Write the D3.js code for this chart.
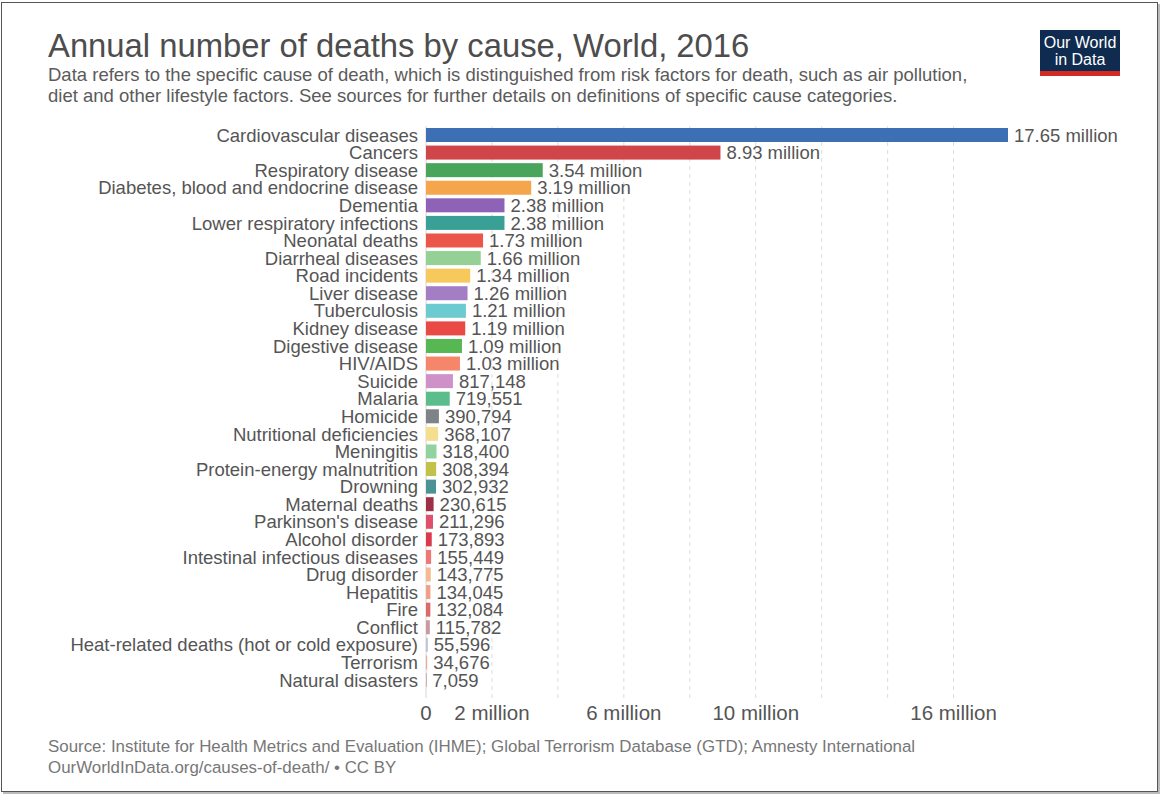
<!DOCTYPE html>
<html>
<head>
<meta charset="utf-8">
<script src="https://cdn.jsdelivr.net/npm/d3@7"></script>
<style>
  body { margin: 0; background: #fff; }
  text { font-family: "Liberation Sans", Arial, Helvetica, sans-serif; }
</style>
</head>
<body>
<div id="chart"></div>
<script>
var w = 1163;
var h = 798;

// Data
var causes = [
    "Cardiovascular diseases", "Cancers", "Respiratory disease",
    "Diabetes, blood and endocrine disease", "Dementia", "Lower respiratory infections",
    "Neonatal deaths", "Diarrheal diseases", "Road incidents", "Liver disease",
    "Tuberculosis", "Kidney disease", "Digestive disease", "HIV/AIDS", "Suicide",
    "Malaria", "Homicide", "Nutritional deficiencies", "Meningitis",
    "Protein-energy malnutrition", "Drowning", "Maternal deaths", "Parkinson's disease",
    "Alcohol disorder", "Intestinal infectious diseases", "Drug disorder", "Hepatitis",
    "Fire", "Conflict", "Heat-related deaths (hot or cold exposure)", "Terrorism",
    "Natural disasters"
];
var deaths = [
    17650000, 8930000, 3540000, 3190000, 2380000, 2380000, 1730000, 1660000,
    1340000, 1260000, 1210000, 1190000, 1090000, 1030000, 817148, 719551,
    390794, 368107, 318400, 308394, 302932, 230615, 211296, 173893,
    155449, 143775, 134045, 132084, 115782, 55596, 34676, 7059
];
var colors = [
    "#3d6fb4", "#d0454a", "#4aa55c", "#f5a54c", "#8e62b6", "#39a095",
    "#ec554a", "#95d195", "#f7c95c", "#a47ec4", "#6ccbd0", "#ea4a45",
    "#57b753", "#f5866a", "#cf92c8", "#5bbd8b", "#7e8387", "#f3df8e",
    "#90d3a1", "#c2c24b", "#4b9294", "#9d2f48", "#e04f6c", "#da3a4c",
    "#ec7878", "#f5ba91", "#f0a085", "#dc6a6a", "#c99aa2", "#b9c4d6",
    "#e8a9a0", "#c9b3b3"
];
var gridTicks = [2e6, 4e6, 6e6, 8e6, 10e6, 12e6, 14e6, 16e6];
var tickLabels = [0, 2e6, 6e6, 10e6, 16e6];

var data = causes.map(function(c, i) {
    return { cause: c, value: deaths[i], color: colors[i] };
});

var svg = d3.select("#chart").append("svg")
    .attr("width", w)
    .attr("height", h);

// Frame with a bit of shadow
svg.append("rect").attr("x", 3).attr("y", 4).attr("width", 1157).attr("height", 790)
    .attr("fill", "#bbb");
svg.append("rect").attr("x", 1.5).attr("y", 2.5).attr("width", 1156).attr("height", 789)
    .attr("fill", "#fff").attr("stroke", "#555").attr("stroke-width", 1);

// Title + subtitle
svg.append("text")
    .attr("x", 48).attr("y", 57)
    .attr("fill", "#4d4d4d")
    .style("font-size", "32.8px")
    .text("Annual number of deaths by cause, World, 2016");

var sub = [
    "Data refers to the specific cause of death, which is distinguished from risk factors for death, such as air pollution,",
    "diet and other lifestyle factors. See sources for further details on definitions of specific cause categories."
];
svg.selectAll(".sub").data(sub).enter().append("text")
    .attr("class", "sub")
    .attr("x", 48)
    .attr("y", function(d, i) { return 81 + i * 21; })
    .attr("fill", "#5b5b5b")
    .style("font-size", "18.5px")
    .text(function(d) { return d; });

// Logo
var logo = svg.append("g");
logo.append("rect").attr("x", 1040).attr("y", 30).attr("width", 80).attr("height", 46).attr("fill", "#0f2b4f");
logo.append("rect").attr("x", 1040).attr("y", 71).attr("width", 80).attr("height", 5).attr("fill", "#d32b24");
logo.append("text").attr("x", 1080).attr("y", 48).attr("text-anchor", "middle")
    .attr("fill", "#fff").style("font-size", "16px").text("Our World");
logo.append("text").attr("x", 1080).attr("y", 65).attr("text-anchor", "middle")
    .attr("fill", "#fff").style("font-size", "16px").text("in Data");

// Scales
var xScale = d3.scaleLinear()
    .domain([0, 17.65e6])
    .range([426, 1008]);

var yScale = d3.scalePoint()
    .domain(causes)
    .range([135, 680]);

var barH = 14;

// Gridlines
svg.selectAll(".grid").data(gridTicks).enter().append("line")
    .attr("class", "grid")
    .attr("x1", function(d) { return xScale(d); })
    .attr("x2", function(d) { return xScale(d); })
    .attr("y1", 126)
    .attr("y2", 698)
    .attr("stroke", "#dcdcdc")
    .attr("stroke-width", 1)
    .attr("stroke-dasharray", "4,4");

// Zero line
svg.append("line")
    .attr("x1", xScale(0)).attr("x2", xScale(0))
    .attr("y1", 126).attr("y2", 698)
    .attr("stroke", "#e2d2d2").attr("stroke-width", 1);

// Bars
svg.selectAll(".bar").data(data).enter().append("rect")
    .attr("class", "bar")
    .attr("x", xScale(0))
    .attr("y", function(d) { return yScale(d.cause) - barH / 2; })
    .attr("width", function(d) { return Math.max(1, xScale(d.value) - xScale(0)); })
    .attr("height", barH)
    .attr("fill", function(d) { return d.color; });

// Category labels
svg.selectAll(".cat").data(data).enter().append("text")
    .attr("class", "cat")
    .attr("x", 418)
    .attr("y", function(d) { return yScale(d.cause); })
    .attr("dy", "0.36em")
    .attr("text-anchor", "end")
    .attr("fill", "#555")
    .style("font-size", "18.5px")
    .text(function(d) { return d.cause; });

// Value labels
function fmt(v) {
    return v >= 1e6 ? (v / 1e6).toFixed(2) + " million" : d3.format(",")(v);
}
svg.selectAll(".val").data(data).enter().append("text")
    .attr("class", "val")
    .attr("x", function(d) { return xScale(d.value) + 6; })
    .attr("y", function(d) { return yScale(d.cause); })
    .attr("dy", "0.36em")
    .attr("fill", "#555")
    .style("font-size", "18.5px")
    .text(function(d) { return fmt(d.value); });

// Axis tick labels
svg.selectAll(".tick").data(tickLabels).enter().append("text")
    .attr("class", "tick")
    .attr("x", function(d) { return xScale(d); })
    .attr("y", 720)
    .attr("text-anchor", "middle")
    .attr("fill", "#555")
    .style("font-size", "20.5px")
    .text(function(d) { return d === 0 ? "0" : (d / 1e6) + " million"; });

// Footer
svg.append("text").attr("x", 48).attr("y", 752)
    .attr("fill", "#777").style("font-size", "16.9px")
    .text("Source: Institute for Health Metrics and Evaluation (IHME); Global Terrorism Database (GTD); Amnesty International");
svg.append("text").attr("x", 48).attr("y", 773)
    .attr("fill", "#777").style("font-size", "16.9px")
    .text("OurWorldInData.org/causes-of-death/ \u2022 CC BY");
</script>
</body>
</html>
